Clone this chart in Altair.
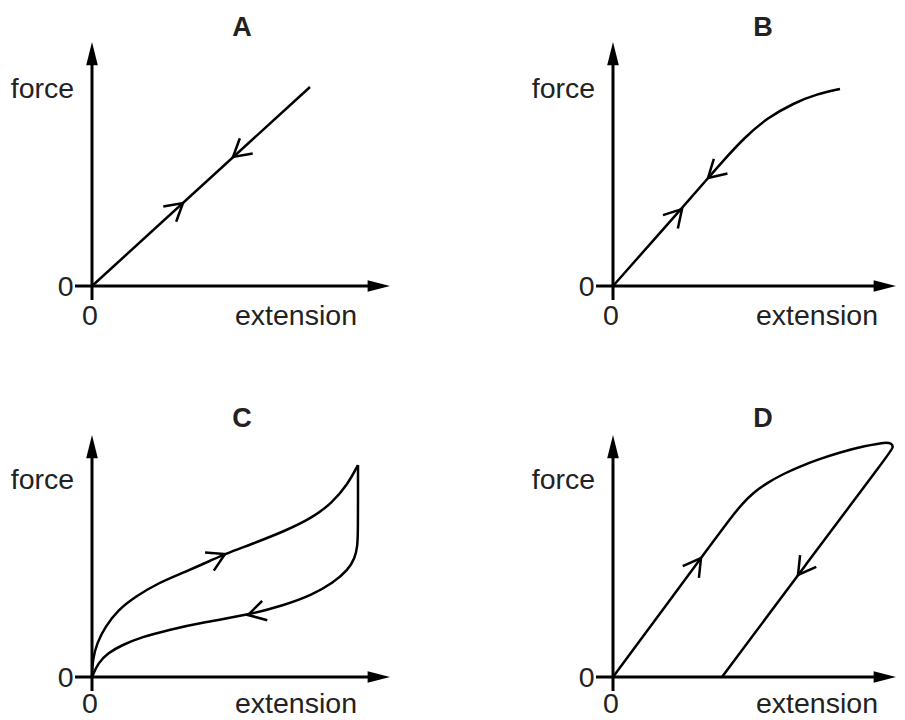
import altair as alt
import pandas as pd

FONT = "Liberation Sans"

# ---------------- data (units: extension / force) ----------------
# Panel A : straight line, same path both ways
A_ext = [0.0, 21.8]
A_force = [0.0, 19.9]
A_chev_ext = [9.1, 14.1]
A_chev_force = [8.3, 12.9]
A_chev_dir = [320.0, 140.0]

# Panel B : straight then curving, same path both ways
B_ext = [0.0, 6.9, 9.6, 11.0, 13.1, 15.4, 18.1, 20.4, 22.7]
B_force = [0.0, 7.8, 10.9, 12.5, 14.8, 16.8, 18.3, 19.2, 19.7]
B_chev_ext = [6.9, 9.5]
B_chev_force = [7.7, 10.8]
B_chev_dir = [312.0, 137.0]

# Panel C : loading curve, then unloading curve (hysteresis loop)
C_load_ext = [0.0, 0.05, 0.5, 1.3, 2.6, 4.3, 6.6, 9.3, 12.0, 13.3, 16.0, 19.3, 22.0, 24.0, 25.6, 26.6]
C_load_force = [0.0, 1.7, 3.4, 5.0, 6.7, 8.0, 9.4, 10.5, 11.7, 12.3, 13.3, 14.6, 15.9, 17.4, 19.3, 21.2]
C_unload_ext = [26.6, 26.6, 26.55, 26.3, 25.6, 24.1, 22.0, 19.3, 15.6, 11.0, 7.6, 5.0, 3.0, 1.6, 0.6, 0.0]
C_unload_force = [21.2, 14.5, 13.1, 11.9, 10.7, 9.4, 8.2, 7.2, 6.2, 5.45, 4.7, 4.0, 3.2, 2.4, 1.4, 0.0]
C_chev_ext = [13.3, 15.6]
C_chev_force = [12.3, 6.2]
C_chev_dir = [334.0, 165.0]

# Panel D : loading line + curve, unloading parallel line (permanent extension)
D_ext = [0.0, 10.2, 12.0, 13.0, 14.0, 15.4, 17.0, 18.7, 20.5, 22.8, 25.2, 27.3, 27.85, 28.05,
         27.7, 19.4, 10.9]
D_force = [0.0, 13.8, 16.2, 17.4, 18.4, 19.4, 20.3, 21.05, 21.75, 22.5, 23.1, 23.5, 23.35, 23.0,
           22.45, 11.4, 0.0]
D_chev_ext = [8.8, 18.5]
D_chev_force = [11.9, 10.2]
D_chev_dir = [306.0, 126.0]

TITLES = ["A", "B", "C", "D"]
Y_LABEL = "force"
X_LABEL = "extension"
ZERO = "0"

# ---------------- styling ----------------
UP_HEAD = "M0,0L0.5,2L-0.5,2Z"
RIGHT_HEAD = "M0,0L-2,0.52L-2,-0.52Z"
CHEVRON = "M-0.866,-0.5L0,0L-0.866,0.5"

LEFT_W, RIGHT_W = 521, 368
TOP_H, BOT_H = 391, 313


def make_panel(title, series, chev, x_tip, y_tip, width, height, label_y):
    xs = alt.Scale(domain=[-8.4, (width - 84) / 10.0], nice=False, zero=False)
    ys = alt.Scale(domain=[-(height - 278) / 10.0, 27.8], nice=False, zero=False)

    def X(f):
        return alt.X(f, type="quantitative", scale=xs, axis=None)

    def Y(f):
        return alt.Y(f, type="quantitative", scale=ys, axis=None)

    axes_df = pd.DataFrame({
        "x0": [0.0, -1.7], "x1": [0.0, x_tip - 1.2],
        "y0": [-1.4, 0.0], "y1": [y_tip - 1.2, 0.0],
    })
    axes = alt.Chart(axes_df).mark_rule(color="black", strokeWidth=3, strokeCap="butt").encode(
        x=X("x0"), x2="x1", y=Y("y0"), y2="y1")

    up = alt.Chart(pd.DataFrame({"ext": [0.0], "force": [y_tip]})).mark_point(
        shape=UP_HEAD, size=540, filled=True, color="black", opacity=1, strokeWidth=0
    ).encode(x=X("ext"), y=Y("force"))
    right = alt.Chart(pd.DataFrame({"ext": [x_tip], "force": [0.0]})).mark_point(
        shape=RIGHT_HEAD, size=500, filled=True, color="black", opacity=1, strokeWidth=0
    ).encode(x=X("ext"), y=Y("force"))

    rows = []
    for s, (ex, fo) in enumerate(series):
        for i, (a, b) in enumerate(zip(ex, fo)):
            rows.append({"seg": s, "i": i, "ext": a, "force": b})
    curve = alt.Chart(pd.DataFrame(rows)).mark_line(
        color="black", strokeWidth=2.5, interpolate="basis", strokeJoin="round"
    ).encode(x=X("ext"), y=Y("force"), detail="seg:N", order="i:Q")

    cx, cf, cd = chev
    chevs = alt.Chart(pd.DataFrame({"ext": cx, "force": cf, "dir": cd})).mark_point(
        shape=CHEVRON, size=1600, filled=False, stroke="black", strokeWidth=2.5,
        opacity=1, strokeJoin="miter", strokeCap="butt"
    ).encode(x=X("ext"), y=Y("force"), angle=alt.Angle("dir:Q", scale=None))

    lbl_center = alt.Chart(pd.DataFrame({
        "ext": [-4.95, -0.2, 20.4], "force": [18.85, label_y, label_y],
        "t": [Y_LABEL, ZERO, X_LABEL]})).mark_text(
        font=FONT, fontSize=28.5, color="#222222", align="center", baseline="alphabetic"
    ).encode(x=X("ext"), y=Y("force"), text="t:N")
    lbl_zero = alt.Chart(pd.DataFrame({"ext": [-1.85], "force": [0.0], "t": [ZERO]})).mark_text(
        font=FONT, fontSize=28.5, color="#222222", align="right", baseline="middle", dy=1
    ).encode(x=X("ext"), y=Y("force"), text="t:N")
    ttl = alt.Chart(pd.DataFrame({"ext": [15.0], "force": [25.0], "t": [title]})).mark_text(
        font=FONT, fontSize=27, fontWeight="bold", color="#222222", align="center",
        baseline="alphabetic"
    ).encode(x=X("ext"), y=Y("force"), text="t:N")

    return alt.layer(axes, up, right, curve, chevs, lbl_center, lbl_zero, ttl).properties(
        width=width, height=height)


pA = make_panel(TITLES[0], [(A_ext, A_force)], (A_chev_ext, A_chev_force, A_chev_dir),
                29.8, 24.4, LEFT_W, TOP_H, -3.9)
pB = make_panel(TITLES[1], [(B_ext, B_force)], (B_chev_ext, B_chev_force, B_chev_dir),
                28.3, 24.4, RIGHT_W, TOP_H, -3.9)
pC = make_panel(TITLES[2], [(C_load_ext, C_load_force), (C_unload_ext, C_unload_force)],
                (C_chev_ext, C_chev_force, C_chev_dir), 29.8, 24.2, LEFT_W, BOT_H, -3.55)
pD = make_panel(TITLES[3], [(D_ext, D_force)], (D_chev_ext, D_chev_force, D_chev_dir),
                28.3, 24.2, RIGHT_W, BOT_H, -3.55)

top = alt.hconcat(pA, pB, spacing=0, bounds="flush")
bottom = alt.hconcat(pC, pD, spacing=0, bounds="flush")
chart = alt.vconcat(top, bottom, spacing=0).properties(
    padding=0, background="white"
).configure_view(stroke=None)

chart.save("out.html", embed_options={"renderer": "svg", "actions": False})
